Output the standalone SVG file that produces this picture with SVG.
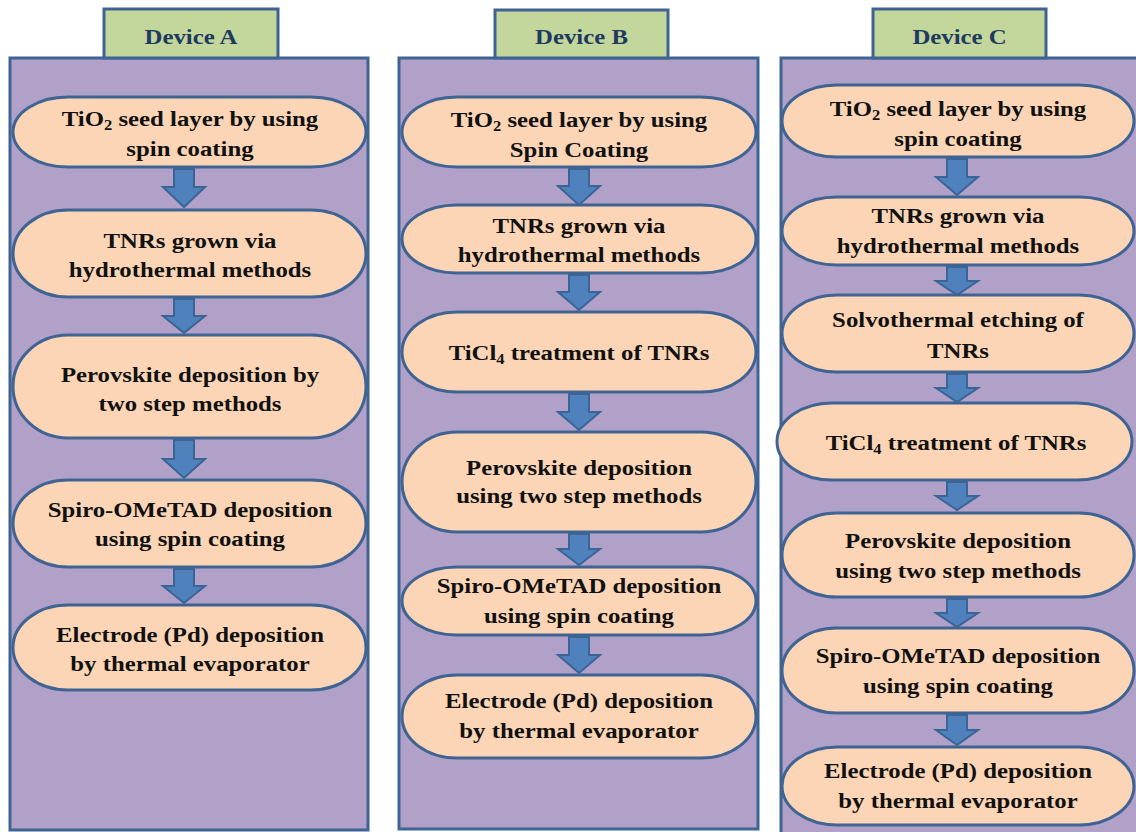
<svg xmlns="http://www.w3.org/2000/svg" width="1136" height="832" viewBox="0 0 1136 832">
<style>
.panel{fill:#B1A0C7;stroke:#3F6494;stroke-width:3}
.hdr{fill:#C3D69B;stroke:#3F6494;stroke-width:3}
.node{fill:#FBD5B5;stroke:#3F6494;stroke-width:3}
.arr{fill:#4F81BD;stroke:#3A6496;stroke-width:2;stroke-linejoin:miter}
text{font-family:"Liberation Serif","Times New Roman",serif;font-weight:bold;font-size:21px;text-anchor:middle}
.ht{fill:#1F3A5F}
.nt{fill:#111}
.sub{font-size:14px}
</style>
<rect width="1136" height="832" fill="#ffffff"/>
<g id="panelA">
<rect class="panel" x="10" y="58" width="358" height="772"/>
<rect class="hdr" x="104" y="9" width="174" height="49"/>
<text class="ht" transform="translate(191 44) scale(1.18 1)">Device A</text>
</g>
<g id="panelB">
<rect class="panel" x="399" y="58" width="359" height="771"/>
<rect class="hdr" x="495" y="10" width="173" height="48"/>
<text class="ht" transform="translate(581.5 44) scale(1.18 1)">Device B</text>
</g>
<g id="panelC">
<rect class="panel" x="781" y="58" width="400" height="800"/>
<rect class="hdr" x="873" y="9" width="173" height="49"/>
<text class="ht" transform="translate(959.5 44) scale(1.18 1)">Device C</text>
</g>
<g id="connectors">
<polygon class="arr" points="174,169 194,169 194,187 205,187 184,207 163,187 174,187"/>
<polygon class="arr" points="174,299 194,299 194,316 205,316 184,333 163,316 174,316"/>
<polygon class="arr" points="174,440 194,440 194,459 205,459 184,478 163,459 174,459"/>
<polygon class="arr" points="174,569 194,569 194,586 205,586 184,603 163,586 174,586"/>
<polygon class="arr" points="569,169 589,169 589,186 600,186 579,205 558,186 569,186"/>
<polygon class="arr" points="569,275 589,275 589,292 600,292 579,310 558,292 569,292"/>
<polygon class="arr" points="569,394 589,394 589,412 600,412 579,430 558,412 569,412"/>
<polygon class="arr" points="569,534 589,534 589,549 600,549 579,565 558,549 569,549"/>
<polygon class="arr" points="569,637 589,637 589,655 600,655 579,673 558,655 569,655"/>
<polygon class="arr" points="947,159 967,159 967,177 978,177 957,195 936,177 947,177"/>
<polygon class="arr" points="947,267 967,267 967,281 978,281 957,295 936,281 947,281"/>
<polygon class="arr" points="947,374 967,374 967,388 978,388 957,402 936,388 947,388"/>
<polygon class="arr" points="947,482 967,482 967,496 978,496 957,510 936,496 947,496"/>
<polygon class="arr" points="947,599 967,599 967,613 978,613 957,627 936,613 947,613"/>
<polygon class="arr" points="947,715 967,715 967,730 978,730 957,745 936,730 947,730"/>
</g>
<g id="A1"><rect class="node" x="13" y="97" width="353" height="70" rx="55" ry="35"/>
<text class="nt" transform="translate(190 126) scale(1.18 1)">TiO<tspan class="sub" dy="4">2</tspan><tspan dy="-4"> seed layer by using</tspan></text>
<text class="nt" transform="translate(190 156) scale(1.18 1)">spin coating</text></g>
<g id="A2"><rect class="node" x="13" y="210" width="353" height="87" rx="55" ry="43.5"/>
<text class="nt" transform="translate(190 248) scale(1.18 1)">TNRs grown via</text>
<text class="nt" transform="translate(190 277) scale(1.18 1)">hydrothermal methods</text></g>
<g id="A3"><rect class="node" x="13" y="335" width="353" height="103" rx="55" ry="51.5"/>
<text class="nt" transform="translate(190 382) scale(1.18 1)">Perovskite deposition by</text>
<text class="nt" transform="translate(190 411) scale(1.18 1)">two step methods</text></g>
<g id="A4"><rect class="node" x="13" y="480" width="353" height="87" rx="55" ry="43.5"/>
<text class="nt" transform="translate(190 517) scale(1.18 1)">Spiro-OMeTAD deposition</text>
<text class="nt" transform="translate(190 546) scale(1.18 1)">using spin coating</text></g>
<g id="A5"><rect class="node" x="13" y="605" width="353" height="85" rx="55" ry="42.5"/>
<text class="nt" transform="translate(190 642) scale(1.18 1)">Electrode (Pd) deposition</text>
<text class="nt" transform="translate(190 671) scale(1.18 1)">by thermal evaporator</text></g>
<g id="B1"><rect class="node" x="402" y="97" width="354" height="70" rx="55" ry="35"/>
<text class="nt" transform="translate(579 127) scale(1.18 1)">TiO<tspan class="sub" dy="4">2</tspan><tspan dy="-4"> seed layer by using</tspan></text>
<text class="nt" transform="translate(579 157) scale(1.18 1)">Spin Coating</text></g>
<g id="B2"><rect class="node" x="402" y="205" width="354" height="68" rx="55" ry="34"/>
<text class="nt" transform="translate(579 233) scale(1.18 1)">TNRs grown via</text>
<text class="nt" transform="translate(579 262) scale(1.18 1)">hydrothermal methods</text></g>
<g id="B3"><rect class="node" x="402" y="312" width="354" height="80" rx="55" ry="40"/>
<text class="nt" transform="translate(579 360) scale(1.18 1)">TiCl<tspan class="sub" dy="4">4</tspan><tspan dy="-4"> treatment of TNRs</tspan></text></g>
<g id="B4"><rect class="node" x="402" y="432" width="354" height="100" rx="55" ry="50"/>
<text class="nt" transform="translate(579 475) scale(1.18 1)">Perovskite deposition</text>
<text class="nt" transform="translate(579 503) scale(1.18 1)">using two step methods</text></g>
<g id="B5"><rect class="node" x="402" y="567" width="354" height="68" rx="55" ry="34"/>
<text class="nt" transform="translate(579 593) scale(1.18 1)">Spiro-OMeTAD deposition</text>
<text class="nt" transform="translate(579 623) scale(1.18 1)">using spin coating</text></g>
<g id="B6"><rect class="node" x="402" y="675" width="354" height="83" rx="55" ry="41.5"/>
<text class="nt" transform="translate(579 708) scale(1.18 1)">Electrode (Pd) deposition</text>
<text class="nt" transform="translate(579 738) scale(1.18 1)">by thermal evaporator</text></g>
<g id="C1"><rect class="node" x="782" y="85" width="352" height="72" rx="55" ry="36"/>
<text class="nt" transform="translate(958 116) scale(1.18 1)">TiO<tspan class="sub" dy="4">2</tspan><tspan dy="-4"> seed layer by using</tspan></text>
<text class="nt" transform="translate(958 146) scale(1.18 1)">spin coating</text></g>
<g id="C2"><rect class="node" x="782" y="197" width="352" height="68" rx="55" ry="34"/>
<text class="nt" transform="translate(958 223) scale(1.18 1)">TNRs grown via</text>
<text class="nt" transform="translate(958 253) scale(1.18 1)">hydrothermal methods</text></g>
<g id="C3"><rect class="node" x="782" y="295" width="352" height="77" rx="55" ry="38.5"/>
<text class="nt" transform="translate(958 327) scale(1.18 1)">Solvothermal etching of</text>
<text class="nt" transform="translate(958 358) scale(1.18 1)">TNRs</text></g>
<g id="C4"><rect class="node" x="777" y="403" width="355" height="77" rx="55" ry="38.5"/>
<text class="nt" transform="translate(956 450) scale(1.18 1)">TiCl<tspan class="sub" dy="4">4</tspan><tspan dy="-4"> treatment of TNRs</tspan></text></g>
<g id="C5"><rect class="node" x="782" y="513" width="352" height="84" rx="55" ry="42"/>
<text class="nt" transform="translate(958 548) scale(1.18 1)">Perovskite deposition</text>
<text class="nt" transform="translate(958 578) scale(1.18 1)">using two step methods</text></g>
<g id="C6"><rect class="node" x="782" y="628" width="352" height="85" rx="55" ry="42.5"/>
<text class="nt" transform="translate(958 663) scale(1.18 1)">Spiro-OMeTAD deposition</text>
<text class="nt" transform="translate(958 693) scale(1.18 1)">using spin coating</text></g>
<g id="C7"><rect class="node" x="782" y="747" width="352" height="78" rx="55" ry="39"/>
<text class="nt" transform="translate(958 778) scale(1.18 1)">Electrode (Pd) deposition</text>
<text class="nt" transform="translate(958 808) scale(1.18 1)">by thermal evaporator</text></g>
</svg>
